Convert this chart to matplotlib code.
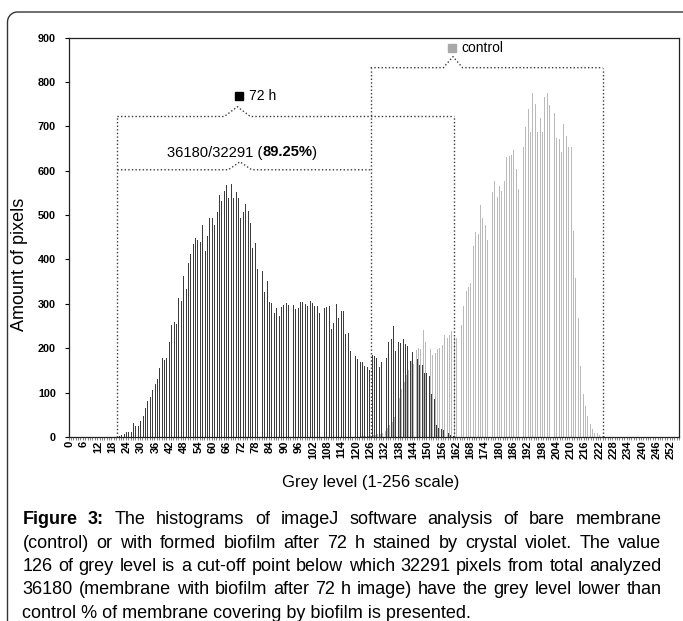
import numpy as np
import matplotlib
matplotlib.use("Agg")
import matplotlib.pyplot as plt
from matplotlib import font_manager
from matplotlib.lines import Line2D
from matplotlib.ticker import FixedLocator


def pick_family(cands):
    for c in cands:
        try:
            font_manager.findfont(font_manager.FontProperties(family=c),
                                  fallback_to_default=False)
            return c
        except Exception:
            pass
    return "DejaVu Sans"


SANS = pick_family(["Liberation Sans", "Arial"])

# ---- data -------------------------------------------------------------
grey_levels = np.arange(256)

counts_72h = ([0] * 20 + [
    1, 3, 5, 6, 11, 12, 12, 31, 25, 25,
    35, 47, 66, 82, 90, 107, 119, 130, 156, 179,
    173, 177, 213, 252, 258, 254, 314, 307, 363, 334,
    393, 412, 434, 449, 444, 440, 477, 420, 453, 493,
    493, 477, 508, 546, 532, 555, 568, 538, 571, 538,
    551, 538, 493, 508, 526, 510, 483, 426, 436, 378,
    359, 374, 326, 352, 305, 303, 280, 290, 273, 292,
    298, 303, 298, 288, 298, 288, 290, 304, 305, 299,
    296, 307, 301, 295, 295, 280, 295, 290, 292, 295,
    243, 256, 299, 269, 283, 283, 231, 235, 194, 186,
    183, 175, 170, 168, 160, 158, 150, 185, 183, 179,
    158, 168, 213, 179, 213, 220, 249, 194, 215, 212,
    221, 209, 205, 172, 192, 177, 175, 162, 162, 145,
    145, 137, 96, 85, 27, 20, 19, 16, 14, 8,
    4, 2] + [0] * 94)

counts_control = ([0] * 120 + [
    1, 1, 2, 2, 3, 3, 4, 4, 5, 6,
    7, 9, 14, 20, 26, 33, 45, 65, 88, 108,
    125, 140, 150, 172, 165, 195, 200, 198, 241, 215,
    226, 198, 184, 190, 198, 200, 207, 230, 222, 230,
    239, 226, 224, 256, 252, 296, 329, 337, 348, 430,
    462, 457, 522, 493, 478, 443, 529, 551, 577, 541,
    565, 555, 577, 630, 634, 636, 647, 604, 559, 626,
    653, 698, 739, 686, 774, 750, 686, 719, 686, 765,
    774, 747, 735, 729, 674, 672, 641, 705, 677, 653,
    653, 465, 358, 268, 160, 96, 70, 47, 29, 17,
    10, 8, 5, 2, 2, 1] + [0] * 30)

tick_levels = list(range(0, 256, 6))
y_ticks = list(range(0, 901, 100))

cutoff_level = 126
total_pixels = 36180
below_cutoff = 32291

# ---- figure -----------------------------------------------------------
W, H = 683, 621
fig = plt.figure(figsize=(W / 100, H / 100), dpi=100)


def fx(px):
    return px / W


def fy(py):
    return 1 - py / H


ax = fig.add_axes([fx(68.5), fy(437), 610.6 / W, (437 - 37.5) / H])

ax.bar(grey_levels - 0.22, counts_72h, width=0.40, color="#3c3c3c",
       linewidth=0)
ax.bar(grey_levels + 0.22, counts_control, width=0.40, color="#bababa",
       linewidth=0)

ax.set_xlim(-0.5, 255.5)
ax.set_ylim(0, 900)
ax.set_yticks(y_ticks)
ax.set_xticks(tick_levels)
ax.set_xticklabels([str(t) for t in tick_levels], rotation=90,
                   fontsize=8, fontweight="bold", family=SANS)
ax.set_yticklabels([str(t) for t in y_ticks], fontsize=7.8,
                   fontweight="bold", family=SANS)
ax.xaxis.set_minor_locator(FixedLocator(np.arange(-0.5, 256, 1)))
ax.tick_params(axis="x", which="major", length=0, pad=2.5)
ax.tick_params(axis="x", which="minor", length=2.2, width=0.5,
               color="#555555")
ax.tick_params(axis="y", length=3, width=0.8, pad=6)
for sp in ax.spines.values():
    sp.set_linewidth(0.9)
    sp.set_color("#222222")

# ---- brackets ---------------------------------------------------------
DOT = dict(ls=(0, (1, 1.6)), color="#3a3a3a", lw=1.0, clip_on=False)


def bracket(x0, x1, y, xc, peak, half):
    ax.plot([x0, xc - half, xc, xc + half, x1], [y, y, peak, y, y], **DOT)


def vline(x, y):
    ax.plot([x, x], [0, y], **DOT)


# inner bracket: pixels below the cut-off
bracket(20.0, cutoff_level + 0.2, 602, 71.4, 620, 4.9)
# 72 h bracket
bracket(20.0, 161.3, 722, 70.3, 744, 5.5)
# control bracket
bracket(cutoff_level + 0.2, 223.5, 832, 160.7, 857, 4.0)

vline(20.0, 722)
vline(161.3, 722)
vline(cutoff_level + 0.2, 832)
vline(223.5, 832)

ax.plot([71.0], [769], marker="s", ms=5.5, color="black", clip_on=False)
ax.text(75.0, 769, "72 h", fontsize=10, family=SANS, va="center",
        ha="left")
ax.plot([160.3], [877], marker="s", ms=5.5, color="#a8a8a8",
        clip_on=False)
ax.text(164.3, 877, "control", fontsize=10, family=SANS, va="center",
        ha="left")

renderer = fig.canvas.get_renderer()


def draw_runs(runs, x, baseline, size, family):
    texts, widths = [], []
    for s, w in runs:
        t = fig.text(0, fy(baseline), s, fontsize=size, fontweight=w,
                     family=family, va="baseline", ha="left")
        texts.append(t)
        widths.append(t.get_window_extent(renderer).width)
    start = x - sum(widths) / 2
    for t, wd in zip(texts, widths):
        t.set_x(fx(start))
        start += wd


pct = 100.0 * below_cutoff / total_pixels
draw_runs([(f"{total_pixels}/{below_cutoff} (", "normal"),
           (f"{pct:.2f}%", "bold"), (")", "normal")],
          242, 156.5, 10.6, SANS)

# ---- axis titles ------------------------------------------------------
fig.text(fx(20), fy(264), "Amount of pixels", rotation=90, ha="center",
         va="center", fontsize=13, family=SANS)
fig.text(fx(371), fy(483), "Grey level (1-256 scale)", ha="center",
         va="center", fontsize=12, family=SANS)

# ---- caption (justified) ---------------------------------------------
caption_lines = [
    [("Figure", "bold"), ("3:", "bold"), ("The", "normal"),
     ("histograms", "normal"), ("of", "normal"), ("imageJ", "normal"),
     ("software", "normal"), ("analysis", "normal"), ("of", "normal"),
     ("bare", "normal"), ("membrane", "normal")],
    "(control) or with formed biofilm after 72 h stained by crystal violet. The value",
    "126 of grey level is a cut-off point below which 32291 pixels from total analyzed",
    "36180 (membrane with biofilm after 72 h image) have the grey level lower than",
    "control % of membrane covering by biofilm is presented.",
]
cap_x0, cap_x1 = 22.5, 661.5
cap_base = [524.0, 547.5, 571.0, 594.5, 617.5]


def as_words(line):
    if isinstance(line, str):
        return [(w, "normal") for w in line.split(" ")]
    return line


def natural_width(words, size):
    t = fig.text(0, 0, " ".join(w for w, _ in words), fontsize=size,
                 family=SANS)
    wd = t.get_window_extent(renderer).width
    t.remove()
    return wd


# size the caption so the widest line just fills the text column
probe = 10.0
widest = max(natural_width(as_words(l), probe) for l in caption_lines[:-1])
cap_size = probe * (cap_x1 - cap_x0 - 4) / widest

for i, line in enumerate(caption_lines):
    words = as_words(line)
    if i == len(caption_lines) - 1:
        fig.text(fx(cap_x0), fy(cap_base[i]), line, fontsize=cap_size,
                 family=SANS, va="baseline", ha="left")
        continue
    texts, widths = [], []
    for s, w in words:
        t = fig.text(0, fy(cap_base[i]), s, fontsize=cap_size, fontweight=w,
                     family=SANS, va="baseline", ha="left")
        texts.append(t)
        widths.append(t.get_window_extent(renderer).width)
    gap = (cap_x1 - cap_x0 - sum(widths)) / (len(words) - 1)
    xpos = cap_x0
    for t, wd in zip(texts, widths):
        t.set_x(fx(xpos))
        xpos += wd + gap

# ---- outer frame with rounded top-left corner -----------------------
r = 10.0
ang = np.linspace(np.pi, np.pi / 2, 20)
fx_pts = [7.5, 7.5] + list(7.5 + r + r * np.cos(ang)) + [700]
fy_pts = [640, 12 + r] + list(12 + r - r * np.sin(ang)) + [12]
fig.add_artist(Line2D([fx(p) for p in fx_pts], [fy(p) for p in fy_pts],
                      transform=fig.transFigure, color="#333333", lw=1.0))

fig.savefig("out.png", dpi=100)
